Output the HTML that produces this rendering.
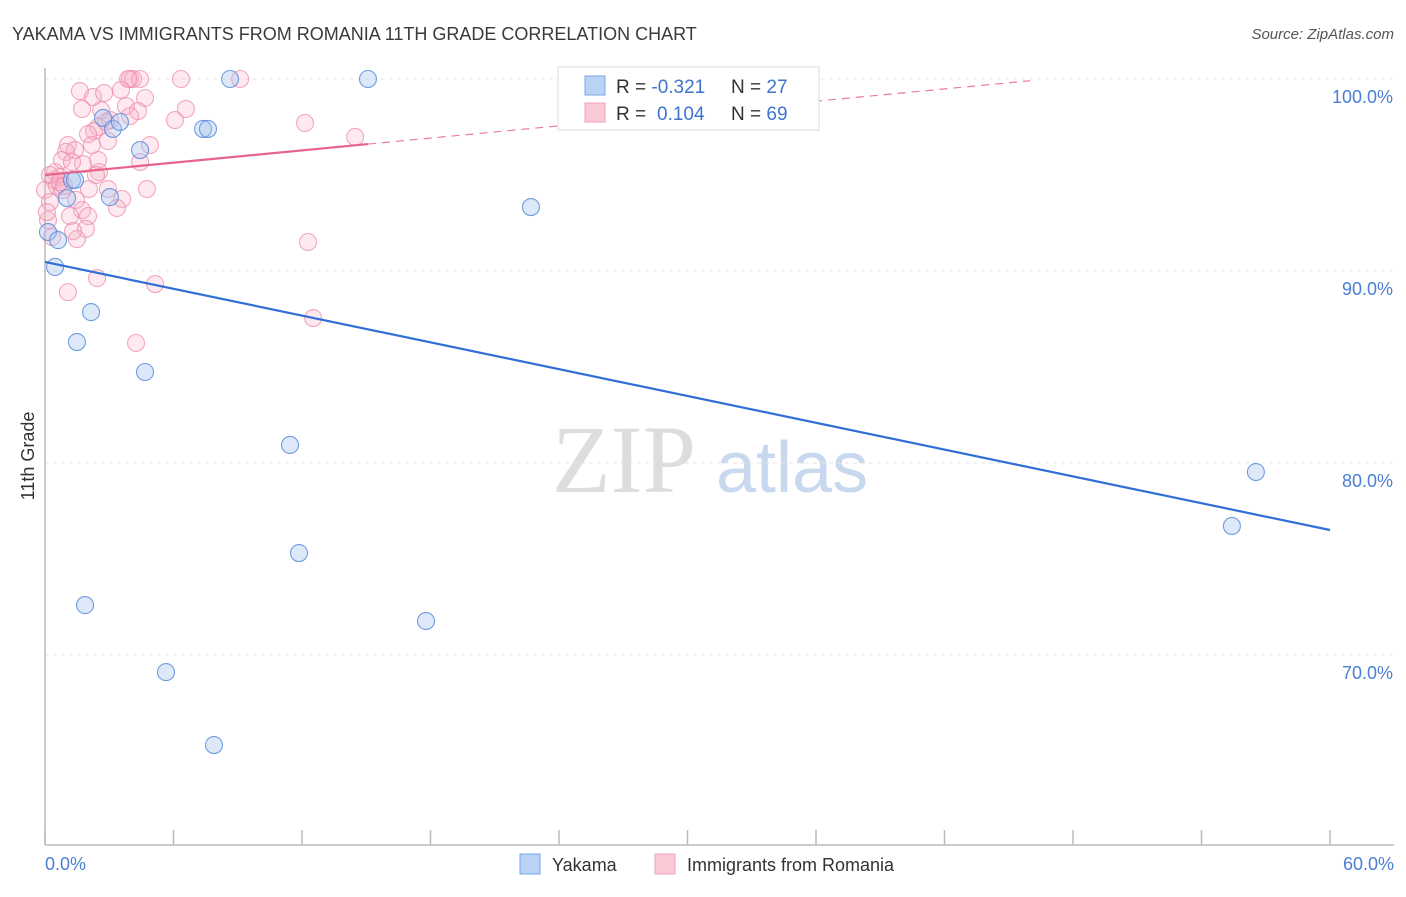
<!DOCTYPE html>
<html><head><meta charset="utf-8"><style>
body{margin:0;background:#fff;font-family:"Liberation Sans",sans-serif;}
</style></head><body>
<svg width="1406" height="892" viewBox="0 0 1406 892" xmlns="http://www.w3.org/2000/svg" font-family="Liberation Sans, sans-serif">
<text x="12" y="40" font-size="18" fill="#3a3a3a">YAKAMA VS IMMIGRANTS FROM ROMANIA 11TH GRADE CORRELATION CHART</text>
<text x="1394" y="39" font-size="15" fill="#555" font-style="italic" text-anchor="end">Source: ZipAtlas.com</text>
<g>
<text x="552" y="492" font-size="96" font-family="Liberation Serif, serif" fill="#dddddd">ZIP</text>
<text x="716" y="492" font-size="72" fill="#c8d8ee">atlas</text>
</g>
<g id="grid"></g>
<line x1="45" y1="68" x2="45" y2="845" stroke="#bbb" stroke-width="1.5"/>
<line x1="45" y1="845" x2="1394" y2="845" stroke="#bbb" stroke-width="1.5"/>
<g id="xticks"></g>
<g id="pts"></g>
<g id="trends"></g>
<text x="34" y="456" font-size="18" fill="#333" transform="rotate(-90 34 456)" text-anchor="middle">11th Grade</text>
<text x="45" y="870" font-size="18" fill="#4a7fd4">0.0%</text>
<text x="1394" y="870" font-size="18" fill="#4a7fd4" text-anchor="end">60.0%</text>
<g>
<rect x="558" y="67" width="261" height="63" fill="#fff" stroke="#ddd"/>
<rect x="585" y="76" width="20" height="19" fill="#b9d3f5" stroke="#7aa5e6"/>
<rect x="585" y="103" width="20" height="19" fill="#fbc8d6" stroke="#f1a0b8"/>
<text x="616" y="93" font-size="19" fill="#333">R = <tspan fill="#3d74d0">-0.321</tspan><tspan x="731">N = </tspan><tspan fill="#3d74d0">27</tspan></text>
<text x="616" y="120" font-size="19" fill="#333">R = <tspan fill="#3d74d0" x="657">0.104</tspan><tspan x="731">N = </tspan><tspan fill="#3d74d0">69</tspan></text>
</g>
<g>
<rect x="520" y="854" width="20" height="20" fill="#b9d3f5" stroke="#7aa5e6"/>
<text x="552" y="871" font-size="18" fill="#333">Yakama</text>
</g>
<g>
<rect x="655" y="854" width="20" height="20" fill="#fbc8d6" stroke="#f1a0b8"/>
<text x="687" y="871" font-size="18" fill="#333">Immigrants from Romania</text>
</g>
</svg>
<script>
const yTicks=[100,90,80,70];
const yTickLabels=["100.0%","90.0%","80.0%","70.0%"];
const xTicks=[0,6,12,18,24,30,36,42,48,54,60];
const blueX=[0.14,0.47,0.61,1.26,1.03,1.49,2.15,1.87,2.71,3.17,3.03,3.50,4.44,4.67,5.65,7.38,7.61,7.89,8.64,11.44,11.86,15.08,17.79,22.69,55.42,56.54,1.40];
const blueY=[92.03,90.21,91.61,94.74,93.80,86.30,87.86,72.60,97.97,97.40,93.85,97.76,96.30,84.74,69.11,97.40,97.40,65.31,100,80.94,75.31,100,71.77,93.33,76.72,79.53,94.74];
const pinkX=[3.97,4.11,4.44,3.88,6.35,9.11,1.63,2.24,2.76,3.55,4.67,6.58,1.73,2.62,3.78,4.34,2.48,2.29,3.04,2.01,6.07,4.90,1.07,1.40,0.98,2.85,0.79,2.48,1.77,1.26,0.47,0.42,0.70,0.56,0.84,2.05,2.94,4.76,2.52,2.38,1.45,1.73,2.01,3.60,3.36,1.17,1.91,1.31,0.14,0.33,1.49,0.00,0.23,0.09,1.07,2.43,5.14,4.25,12.28,12.52,12.14,14.48,4.44,3.97,0.70,0.89,0.23,2.94,2.19];
const pinkY=[100,100,100,100,100,100,99.37,99.06,99.27,99.43,99.01,98.44,98.44,98.38,98.59,98.33,97.50,97.29,97.86,97.13,97.86,96.56,96.56,96.30,96.20,97.76,95.78,95.78,95.57,95.68,95.15,94.74,94.89,94.43,94.22,94.27,94.27,94.27,95.15,95.00,93.70,93.17,92.86,93.75,93.28,92.86,92.19,92.08,92.65,91.77,91.66,94.22,93.59,93.07,88.90,89.63,89.32,86.25,91.51,87.55,97.71,96.98,95.68,98.07,94.63,94.43,95.00,96.77,96.56];
const blueTrend=[90.47,76.51];
const pinkTrend=[95.0,96.61];
const NS="http://www.w3.org/2000/svg";
const xs=v=>45+v/60*1285;
const ys=v=>79+(100-v)*19.2;
function mk(tag,attrs,parent){const e=document.createElementNS(NS,tag);for(const k in attrs)e.setAttribute(k,attrs[k]);document.getElementById(parent).appendChild(e);return e;}
yTicks.forEach((t,i)=>{
 const l=mk('line',{x1:45,x2:1394,y1:ys(t),y2:ys(t),stroke:'#e4e4e4','stroke-dasharray':'4,4'},'grid');
 
 
 const tx=mk('text',{x:1393,y:ys(t)+24,'font-size':18,fill:'#4a7fd4','text-anchor':'end'},'grid');
 tx.textContent=yTickLabels[i];
 
 
});
xTicks.forEach(t=>{
 const l=mk('line',{x1:xs(t),x2:xs(t),y1:830,y2:845,stroke:'#bbb','stroke-width':1.5},'xticks');
 
 
});
pinkX.forEach((x,i)=>{
 const c=mk('circle',{cx:xs(x),cy:ys(pinkY[i]),r:8.5,fill:'rgba(248,175,198,0.28)',stroke:'rgba(238,140,172,0.75)','stroke-width':1.1},'pts');
 
 
});
blueX.forEach((x,i)=>{
 const c=mk('circle',{cx:xs(x),cy:ys(blueY[i]),r:8.5,fill:'rgba(165,198,240,0.38)',stroke:'rgba(90,140,218,0.85)','stroke-width':1.1},'pts');
 
 
});
const bl=mk('line',{x1:xs(0),y1:ys(blueTrend[0]),x2:xs(60),y2:ys(blueTrend[1]),stroke:'#2f6fd6','stroke-width':2.2},'trends');


const slope=(pinkTrend[1]-pinkTrend[0])/15.08;
const xEnd=Math.min((100-pinkTrend[0])/slope,46);
const pd=mk('line',{x1:xs(15.08),y1:ys(pinkTrend[1]),x2:xs(xEnd),y2:ys(pinkTrend[0]+slope*xEnd),stroke:'#ee7a9c','stroke-width':1.2,'stroke-dasharray':'8,6'},'trends');


const pl=mk('line',{x1:xs(0),y1:ys(pinkTrend[0]),x2:xs(15.08),y2:ys(pinkTrend[1]),stroke:'#e8638a','stroke-width':2.2},'trends');


</script>
</body></html>
